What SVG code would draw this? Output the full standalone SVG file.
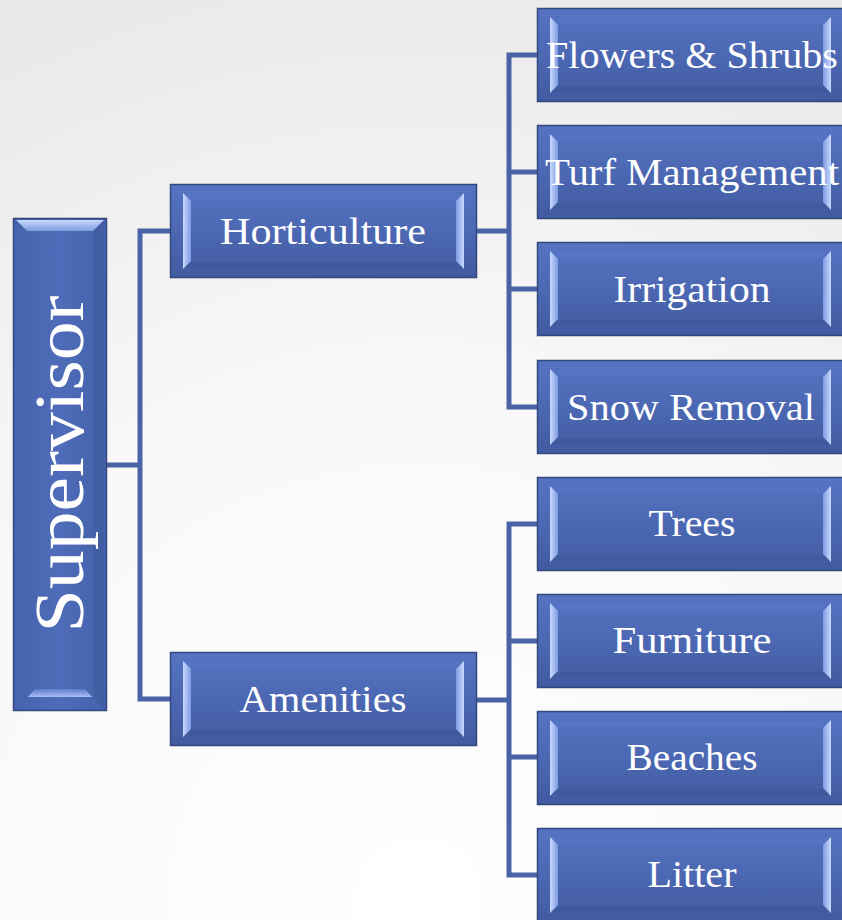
<svg xmlns="http://www.w3.org/2000/svg" width="842" height="920" viewBox="0 0 842 920">
<defs>
<radialGradient id="bg" cx="420" cy="900" r="950" gradientUnits="userSpaceOnUse">
<stop offset="0" stop-color="#ffffff"/>
<stop offset="0.55" stop-color="#f8f8f8"/>
<stop offset="1" stop-color="#e9e9e9"/>
</radialGradient>
<linearGradient id="boxfill" x1="0" y1="0" x2="0" y2="1">
<stop offset="0" stop-color="#5573c2"/>
<stop offset="0.5" stop-color="#4c68b3"/>
<stop offset="1" stop-color="#405ba0"/>
</linearGradient>
<linearGradient id="vfill" x1="0" y1="0" x2="1" y2="0">
<stop offset="0" stop-color="#4663ad"/>
<stop offset="0.5" stop-color="#4f6cba"/>
<stop offset="1" stop-color="#4461aa"/>
</linearGradient>
<linearGradient id="lbev" x1="0" y1="0" x2="1" y2="0">
<stop offset="0" stop-color="#c9d9ff"/>
<stop offset="1" stop-color="#7f9ae0"/>
</linearGradient>
<linearGradient id="rbev" x1="0" y1="0" x2="1" y2="0">
<stop offset="0" stop-color="#7f9ae0"/>
<stop offset="1" stop-color="#c9d9ff"/>
</linearGradient>
<linearGradient id="tbev" x1="0" y1="0" x2="0" y2="1">
<stop offset="0" stop-color="#c9d9ff"/>
<stop offset="1" stop-color="#7f9ae0"/>
</linearGradient>
<linearGradient id="bbev" x1="0" y1="0" x2="0" y2="1">
<stop offset="0" stop-color="#5f7bcb"/>
<stop offset="1" stop-color="#a9bff5"/>
</linearGradient>
<symbol id="hbox" viewBox="0 0 307 94" width="307" height="94" overflow="visible">
<rect x="0.5" y="0.5" width="306" height="93" fill="url(#boxfill)" stroke="#34477e" stroke-width="1.5"/>
<polygon points="13,10 294,10 287,16 20,16" fill="#5877c8" opacity="0.5"/>
<polygon points="13,84 294,84 287,78 20,78" fill="#3b5494" opacity="0.45"/>
<polygon points="13,9 21,17 21,77 13,85" fill="url(#lbev)"/>
<polygon points="294,9 286,17 286,77 294,85" fill="url(#rbev)"/>
</symbol>
</defs>
<style>
.lbl{font-family:"Liberation Serif","DejaVu Serif",serif;fill:#ffffff;font-size:37px;text-anchor:middle}
.conn{fill:none;stroke:#4a62a6;stroke-width:5;stroke-linejoin:miter}
</style>
<rect x="0" y="0" width="842" height="920" fill="url(#bg)"/>

<g id="connectors">
<path class="conn" d="M107,465 H140 M170,231 H140 V699 H170"/>
<path class="conn" d="M477,231 H509 M537,55 H509 V407 H537 M509,172 H537 M509,289 H537"/>
<path class="conn" d="M477,700 H509 M537,524 H509 V875 H537 M509,641 H537 M509,757 H537"/>
</g>

<g id="supervisor">
<rect x="13.5" y="218.5" width="93" height="492" fill="url(#vfill)" stroke="#34477e" stroke-width="1.5"/>
<polygon points="16,220 104,220 93,231 27,231" fill="url(#tbev)"/>
<polygon points="28,697 92,697 85,689 35,689" fill="url(#bbev)"/>
<polygon points="16,220 27,231 27,697 16,708" fill="#4763ad" opacity="0.5"/>
<polygon points="104,220 93,231 93,697 104,708" fill="#3d5799" opacity="0.4"/>
<text class="lbl" transform="translate(83,464) rotate(-90)" style="font-size:70px" textLength="337" lengthAdjust="spacingAndGlyphs">Supervisor</text>
</g>

<g id="horticulture">
<use href="#hbox" x="170" y="184"/>
<text class="lbl" x="323" y="244" textLength="206" lengthAdjust="spacingAndGlyphs">Horticulture</text>
</g>
<g id="amenities">
<use href="#hbox" x="170" y="652"/>
<text class="lbl" x="323" y="712" textLength="167" lengthAdjust="spacingAndGlyphs">Amenities</text>
</g>

<g id="flowers">
<use href="#hbox" x="537" y="8"/>
<text class="lbl" x="692" y="68" textLength="292" lengthAdjust="spacingAndGlyphs">Flowers &amp; Shrubs</text>
</g>
<g id="turf">
<use href="#hbox" x="537" y="125"/>
<text class="lbl" x="692" y="185" textLength="294" lengthAdjust="spacingAndGlyphs">Turf Management</text>
</g>
<g id="irrigation">
<use href="#hbox" x="537" y="242"/>
<text class="lbl" x="692" y="302" textLength="157" lengthAdjust="spacingAndGlyphs">Irrigation</text>
</g>
<g id="snow">
<use href="#hbox" x="537" y="360"/>
<text class="lbl" x="691" y="420" textLength="248" lengthAdjust="spacingAndGlyphs">Snow Removal</text>
</g>
<g id="trees">
<use href="#hbox" x="537" y="477"/>
<text class="lbl" x="692" y="536" textLength="87" lengthAdjust="spacingAndGlyphs">Trees</text>
</g>
<g id="furniture">
<use href="#hbox" x="537" y="594"/>
<text class="lbl" x="692" y="653" textLength="159" lengthAdjust="spacingAndGlyphs">Furniture</text>
</g>
<g id="beaches">
<use href="#hbox" x="537" y="711"/>
<text class="lbl" x="692" y="770" textLength="131" lengthAdjust="spacingAndGlyphs">Beaches</text>
</g>
<g id="litter">
<use href="#hbox" x="537" y="828"/>
<text class="lbl" x="692" y="887" textLength="89" lengthAdjust="spacingAndGlyphs">Litter</text>
</g>
</svg>
